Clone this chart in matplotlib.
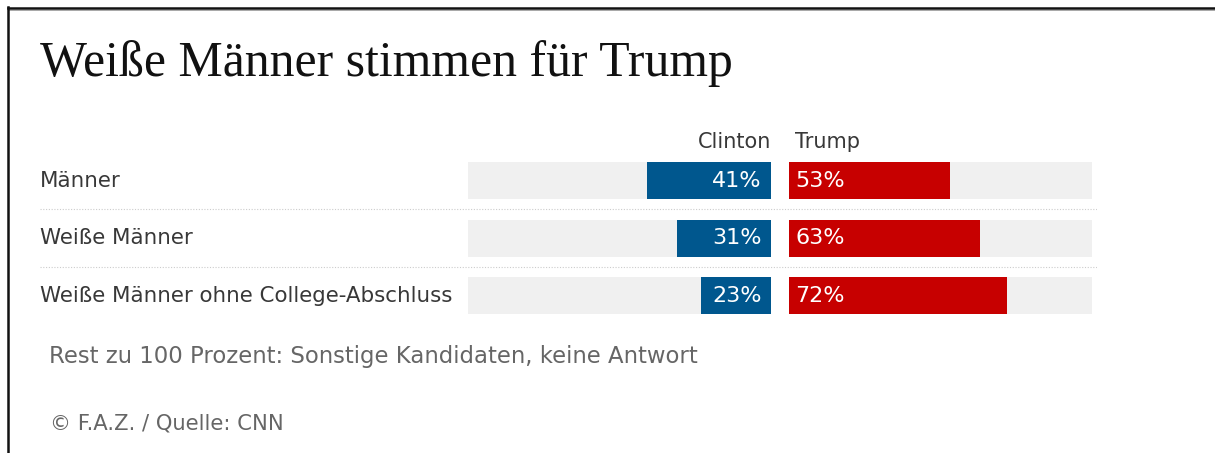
import matplotlib.pyplot as plt
from matplotlib.lines import Line2D

# survey values (percent)
groups = ['Männer', 'Weiße Männer', 'Weiße Männer ohne College-Abschluss']
clinton = [41, 31, 23]
trump = [53, 63, 72]
candidates = ['Clinton', 'Trump']

title = 'Weiße Männer stimmen für Trump'
note = 'Rest zu 100 Prozent: Sonstige Kandidaten, keine Antwort'
source = '© F.A.Z. / Quelle: CNN'

BLUE = '#00578e'
RED = '#c70000'
BG = '#f0f0f0'
TXT = '#383838'
GREY = '#666666'

W, H = 1215, 453
fig = plt.figure(figsize=(W / 100, H / 100), dpi=100)
fig.patch.set_facecolor('white')

# frame lines (top and left)
fig.add_artist(Line2D([8 / W, 1], [1 - 7.5 / H, 1 - 7.5 / H], color='#111111', lw=1.8))
fig.add_artist(Line2D([8 / W, 1], [1 - 9.5 / H, 1 - 9.5 / H], color='#999999', lw=0.6))
fig.add_artist(Line2D([8 / W, 8 / W], [0, 1 - 7 / H], color='#111111', lw=1.8))

fig.text(40 / W, 1 - 76 / H, title, family='Liberation Serif', fontsize=35.8,
         color='#111111', ha='left', va='baseline')

# bars panel: spans px 40..1097, rows every 57.5 px starting at 180.5
px_per = 3.03
center = 780
left_px, right_px = 40, 1097
top_px, row_h = 180.5 - 28.75, 57.5
ax = fig.add_axes([left_px / W, 1 - (top_px + 3 * row_h) / H,
                   (right_px - left_px) / W, 3 * row_h / H])
ax.set_xlim((left_px - center) / px_per, (right_px - center) / px_per)
ax.set_ylim(2.5, -0.5)
ax.axis('off')

gap = 9 / px_per
bh = 37 / row_h
ys = list(range(len(groups)))
ax.barh(ys, [100] * 3, left=-gap - 100, height=bh, color=BG)
ax.barh(ys, [100] * 3, left=gap, height=bh, color=BG)
ax.barh(ys, clinton, left=[-gap - v for v in clinton], height=bh, color=BLUE)
ax.barh(ys, trump, left=gap, height=bh, color=RED)

x0 = ax.get_xlim()[0]
for i, g in enumerate(groups):
    ax.text(x0, i, g, ha='left', va='center', fontsize=15.4, color=TXT)
    ax.text(-gap - 3, i, f'{clinton[i]}%', ha='right', va='center',
            fontsize=16, color='white')
    ax.text(gap + 2, i, f'{trump[i]}%', ha='left', va='center',
            fontsize=16, color='white')

for y in [0.5, 1.5]:
    ax.axhline(y, color='#cccccc', lw=0.8, ls=(0, (1, 1.5)))

ax.text(-gap, -0.67, candidates[0], ha='right', va='center', fontsize=15, color=TXT)
ax.text(gap + 2, -0.67, candidates[1], ha='left', va='center', fontsize=15, color=TXT)

fig.text(49 / W, 1 - 357 / H, note, ha='left', va='center', fontsize=16.4, color=GREY)
fig.text(50 / W, 1 - 424 / H, source, ha='left', va='center', fontsize=15.2, color=GREY)

fig.savefig('out.png', dpi=100, facecolor='white')
